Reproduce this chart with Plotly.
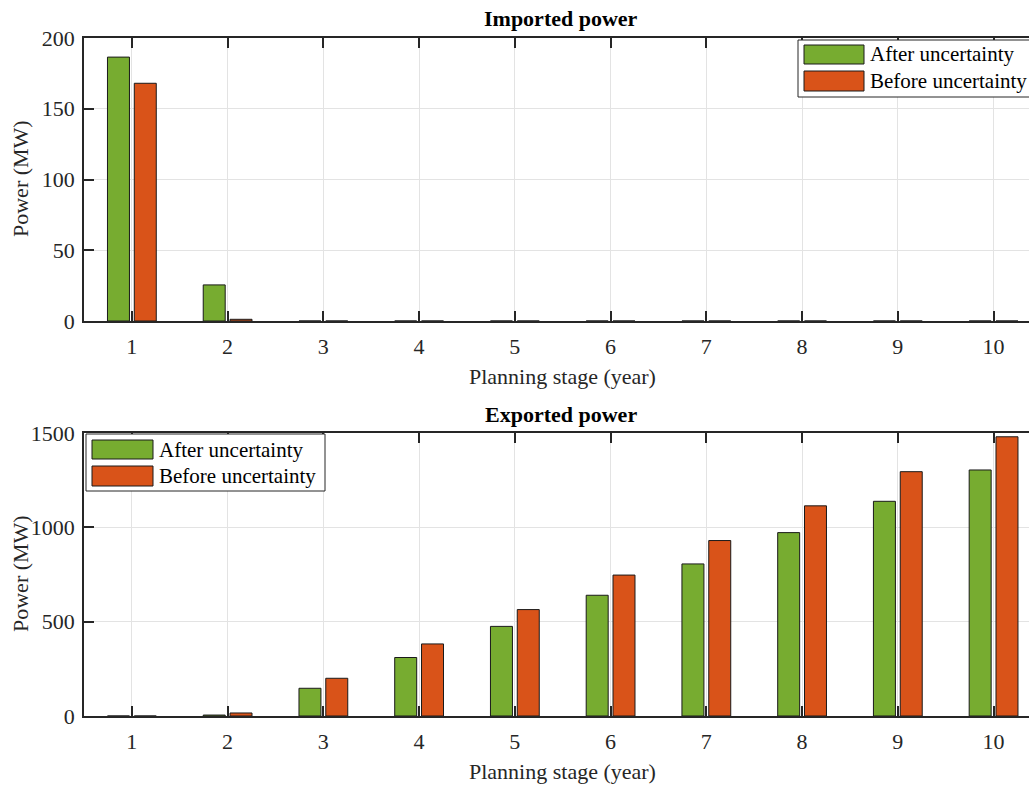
import plotly.graph_objects as go
from plotly.subplots import make_subplots

# Planning stages and series
stages = [1, 2, 3, 4, 5, 6, 7, 8, 9, 10]
series_names = ["After uncertainty", "Before uncertainty"]
imported_after = [186.5, 25.5, 0, 0, 0, 0, 0, 0, 0, 0]
imported_before = [168, 1.2, 0, 0, 0, 0, 0, 0, 0, 0]
exported_after = [0, 5, 147, 310, 475, 640, 806, 972, 1138, 1304]
exported_before = [0, 16, 200, 382, 564, 747, 930, 1114, 1295, 1480]

GREEN = "#77AC30"
RED = "#D95319"
FONT = "Liberation Serif"
AXC = "#262626"

W, H = 1029, 787
ML, MR, MT, MB = 84, 0, 38, 71
PW, PH = W - ML - MR, H - MT - MB


def px_x(px):
    return (px - ML) / PW


def px_y(py):
    return (H - MB - py) / PH


fig = make_subplots(rows=2, cols=1, vertical_spacing=0.1652)

pairs = [(imported_after, imported_before, 1), (exported_after, exported_before, 2)]
for after, before, row in pairs:
    for vals, color, name in [(after, GREEN, series_names[0]), (before, RED, series_names[1])]:
        fig.add_trace(
            go.Bar(
                x=stages, y=vals, name=name, showlegend=False,
                marker=dict(color=color, line=dict(color="#1a1a1a", width=1)),
            ),
            row=row, col=1,
        )

axis_common = dict(
    showline=True, linecolor=AXC, linewidth=1.5,
    ticks="inside", ticklen=10, tickwidth=2, tickcolor=AXC,
    showgrid=True, gridcolor="#e3e3e3", gridwidth=1,
    tickfont=dict(family=FONT, size=22, color=AXC),
    zeroline=False,
)
fig.update_xaxes(range=[0.5, 10.37], tickvals=stages, mirror="ticks",
                 ticklabelstandoff=5, **axis_common)
fig.update_yaxes(ticklabelstandoff=3, **axis_common)
fig.update_yaxes(range=[0, 200], tickvals=[0, 50, 100, 150, 200], row=1, col=1)
fig.update_yaxes(range=[0, 1500], tickvals=[0, 500, 1000, 1500], row=2, col=1)
fig.update_layout(
    yaxis=dict(domain=[px_y(321), 1]),
    yaxis2=dict(domain=[0, px_y(433)]),
)

annotations = []
shapes = []

# titles and axis labels
for title, ty, xl_y, yc in [("Imported power", 19, 376, 179), ("Exported power", 414, 771, 574)]:
    annotations.append(dict(
        text=f"<b>{title}</b>", x=px_x(561), y=px_y(ty), xref="paper", yref="paper",
        showarrow=False, font=dict(family=FONT, size=22, color="black"),
        xanchor="center", yanchor="middle",
    ))
    annotations.append(dict(
        text="Planning stage (year)", x=px_x(562), y=px_y(xl_y), xref="paper", yref="paper",
        showarrow=False, font=dict(family=FONT, size=22, color=AXC),
        xanchor="center", yanchor="middle",
    ))
    annotations.append(dict(
        text="Power (MW)", x=px_x(20), y=px_y(yc), xref="paper", yref="paper",
        showarrow=False, textangle=-90, font=dict(family=FONT, size=22, color=AXC),
        xanchor="center", yanchor="middle",
    ))

# legend boxes
legends = [
    dict(box=(798, 40, 1040, 97), sw_x=(804, 864), rows=[(45, 64), (71, 91)], tx=868),
    dict(box=(86, 434, 325, 491), sw_x=(92, 153), rows=[(440, 459), (466, 486)], tx=157),
]
for lg in legends:
    x0, y0, x1, y1 = lg["box"]
    shapes.append(dict(
        type="rect", xref="paper", yref="paper",
        x0=px_x(x0), x1=px_x(x1), y0=px_y(y1), y1=px_y(y0),
        line=dict(color=AXC, width=1), fillcolor="white", layer="above",
    ))
    for (ry0, ry1), color, name in zip(lg["rows"], [GREEN, RED], series_names):
        shapes.append(dict(
            type="rect", xref="paper", yref="paper",
            x0=px_x(lg["sw_x"][0]), x1=px_x(lg["sw_x"][1]), y0=px_y(ry1), y1=px_y(ry0),
            line=dict(color="#1a1a1a", width=1), fillcolor=color, layer="above",
        ))
        annotations.append(dict(
            text=name, x=px_x(lg["tx"]), y=px_y((ry0 + ry1) / 2), xref="paper", yref="paper",
            showarrow=False, font=dict(family=FONT, size=21, color="black"),
            xanchor="left", yanchor="middle",
        ))

fig.update_layout(
    width=W, height=H,
    margin=dict(l=ML, r=MR, t=MT, b=MB),
    paper_bgcolor="white", plot_bgcolor="white",
    barmode="group", bargap=0.44, bargroupgap=0.18,
    showlegend=False,
    annotations=annotations, shapes=shapes,
    font=dict(family=FONT),
)

fig.write_html("out.html", config={"displayModeBar": False})
